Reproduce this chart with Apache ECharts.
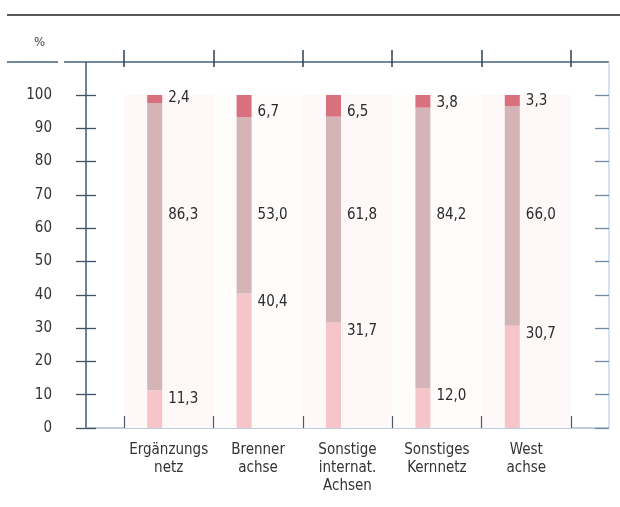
<!DOCTYPE html>
<html>
<head>
<meta charset="utf-8">
<script src="https://cdn.jsdelivr.net/npm/echarts@6/dist/echarts.min.js"></script>
<style>
  html, body { margin: 0; padding: 0; background: #fff; }
  #chart { width: 620px; height: 507px; }
</style>
</head>
<body>
<div id="chart"></div>
<script>
// data (shares in %)
const categories = ['Ergänzungs\nnetz', 'Brenner\nachse', 'Sonstige\ninternat.\nAchsen', 'Sonstiges\nKernnetz', 'West\nachse']
const bottomValues = [11.3, 40.4, 31.7, 12.0, 30.7]
const middleValues = [86.3, 53.0, 61.8, 84.2, 66.0]
const topValues = [2.4, 6.7, 6.5, 3.8, 3.3]
const yTicks = [0, 10, 20, 30, 40, 50, 60, 70, 80, 90, 100]

// layout
const PLOT_TOP = 95
const PLOT_H = 333
const AXIS_LEFT = 86
const AXIS_RIGHT = 609
const CAT_LEFT = 124
const CAT_W = 447
const BAR_SHIFT = 14
const FRAME_Y = 62
const MID_LEVEL = 64
const FONT = '"DejaVu Sans Condensed", "DejaVu Sans", sans-serif'
const pxPerUnit = PLOT_H / 100

const fmt = v => v.toFixed(1).replace('.', ',')

const labelBase = {
  show: true,
  position: ['100%', 0],
  align: 'left',
  verticalAlign: 'middle',
  fontFamily: FONT,
  fontSize: 15,
  color: '#2b2b2b'
}

const bottomData = bottomValues.map(v => ({
  value: v,
  label: { ...labelBase, offset: [6, 8.5], formatter: fmt(v) }
}))
const middleData = middleValues.map((v, i) => {
  const top = bottomValues[i] + v
  return {
    value: v,
    label: { ...labelBase, offset: [6, (top - MID_LEVEL) * pxPerUnit], formatter: fmt(v) }
  }
})
const topData = topValues.map(v => ({
  value: v,
  label: { ...labelBase, position: ['100%', '100%'], offset: [6, -5], formatter: fmt(v) }
}))

const chart = echarts.init(document.getElementById('chart'))
const lineOf = (x1, y1, x2, y2, color, w) => ({
  type: 'line',
  shape: { x1, y1, x2, y2 },
  style: { stroke: color, lineWidth: w },
  silent: true
})
const plotBottom = PLOT_TOP + PLOT_H

chart.setOption({
  animation: false,
  title: {
    text: '%',
    left: 29,
    top: 31,
    textStyle: { fontFamily: FONT, fontSize: 13, fontWeight: 'normal', color: '#444' }
  },
  grid: [
    { left: CAT_LEFT - BAR_SHIFT, width: CAT_W, top: PLOT_TOP, height: PLOT_H },
    { left: CAT_LEFT, width: CAT_W, top: PLOT_TOP, height: PLOT_H },
    // thin strip only for the ticks that cross the top frame line
    { left: CAT_LEFT, width: CAT_W, top: FRAME_Y - 12, height: 17 }
  ],
  xAxis: [
    { type: 'category', gridIndex: 0, data: categories, show: false },
    {
      type: 'category', gridIndex: 1, data: categories,
      axisLine: { show: false },
      axisTick: { show: true, inside: true, length: 12, lineStyle: { color: '#4d5a68', width: 1.2 } },
      splitArea: { show: true, areaStyle: { color: ['#fef8f8', '#fffcfc'] } },
      axisLabel: { interval: 0, fontFamily: FONT, fontSize: 15, color: '#333', lineHeight: 18, margin: 13 }
    },
    {
      type: 'category', gridIndex: 2, data: categories,
      axisLine: { show: false },
      axisTick: { show: true, inside: true, length: 17, lineStyle: { color: '#2e3f52', width: 1.5 } },
      axisLabel: { show: false }
    }
  ],
  yAxis: [
    { type: 'value', gridIndex: 0, min: 0, max: 100, show: false },
    {
      type: 'value', gridIndex: 1, min: 0, max: 100, interval: 10, position: 'left',
      offset: CAT_LEFT - AXIS_LEFT,
      axisLine: { show: false },
      axisTick: { show: true, length: 10, lineStyle: { color: '#3f5368', width: 1.3 } },
      splitLine: { show: false },
      axisLabel: {
        fontFamily: FONT, fontSize: 15, color: '#333', margin: 34,
        formatter: v => (yTicks.includes(v) ? String(v) : '')
      }
    },
    {
      type: 'value', gridIndex: 1, min: 0, max: 100, interval: 10, position: 'left',
      offset: CAT_LEFT - AXIS_LEFT,
      axisLine: { show: false },
      axisTick: { show: true, inside: true, length: 10, lineStyle: { color: '#3f5368', width: 1.3 } },
      splitLine: { show: false },
      axisLabel: { show: false }
    },
    {
      type: 'value', gridIndex: 1, min: 0, max: 100, interval: 10, position: 'right',
      offset: AXIS_RIGHT - (CAT_LEFT + CAT_W),
      axisLine: { show: false },
      axisTick: { show: true, inside: true, length: 14, lineStyle: { color: '#6f8aa6', width: 1.3 } },
      splitLine: { show: false },
      axisLabel: { show: false }
    },
    { type: 'value', gridIndex: 2, show: false }
  ],
  series: [
    {
      name: 'unten', type: 'bar', stack: 'a', xAxisIndex: 0, yAxisIndex: 0,
      barWidth: 15, itemStyle: { color: '#f6c5c9' }, data: bottomData
    },
    {
      name: 'mitte', type: 'bar', stack: 'a', xAxisIndex: 0, yAxisIndex: 0,
      barWidth: 15, itemStyle: { color: '#d4b4b7' }, data: middleData
    },
    {
      name: 'oben', type: 'bar', stack: 'a', xAxisIndex: 0, yAxisIndex: 0,
      barWidth: 15, itemStyle: { color: '#d8707e' }, data: topData
    }
  ],
  graphic: [
    lineOf(7, 15, 620, 15, '#5a5a5a', 2),
    lineOf(7, FRAME_Y, 58, FRAME_Y, '#46627f', 1.5),
    lineOf(64, FRAME_Y, AXIS_RIGHT, FRAME_Y, '#46627f', 1.5),
    lineOf(AXIS_LEFT, FRAME_Y, AXIS_LEFT, plotBottom, '#3e5a78', 1.5),
    lineOf(AXIS_LEFT, plotBottom, AXIS_RIGHT, plotBottom, '#a9bdd0', 1.5),
    lineOf(AXIS_RIGHT, FRAME_Y, AXIS_RIGHT, plotBottom, '#bccfe0', 1.2)
  ]
})
</script>
</body>
</html>
